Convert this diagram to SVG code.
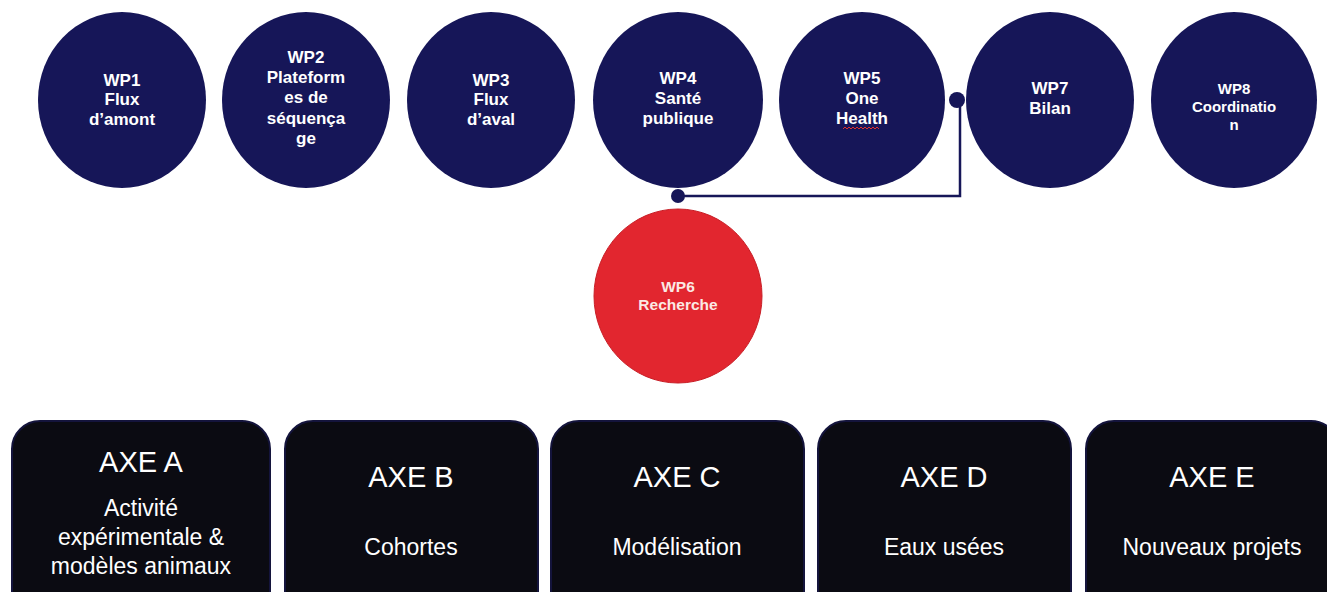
<svg xmlns="http://www.w3.org/2000/svg" width="1327" height="592" viewBox="0 0 1327 592">
<style>
.wp{fill:#161658;}
.wp6{fill:#e2262f;stroke:#c81e26;stroke-width:1;}
.wt{font-family:"Liberation Sans",Arial,sans-serif;font-weight:bold;font-size:17px;fill:#ffffff;text-anchor:middle;}
.sm{font-size:15px;}
.wt6{fill:#fbe9e4;font-size:15.5px;}
.axe{fill:#0b0b12;stroke:#14143c;stroke-width:2;}
.at{font-family:"Liberation Sans",Arial,sans-serif;fill:#ffffff;text-anchor:middle;}
.title{font-size:29px;}
.body{font-size:23px;}
.conn{fill:none;stroke:#161658;stroke-width:2.5;}
.dot{fill:#161658;}
</style>
<rect width="1327" height="592" fill="#ffffff"/>
<g id="connectors">
<path class="conn" d="M678,196 H960 V100"/>
<circle class="dot" cx="678" cy="196" r="7"/>
<circle class="dot" cx="957" cy="100" r="8"/>
</g>
<g id="wp1"><ellipse class="wp" cx="122" cy="100" rx="84" ry="88"/>
<text class="wt" x="122" y="86">WP1</text><text class="wt" x="122" y="105">Flux</text><text class="wt" x="122" y="125">d’amont</text></g>
<g id="wp2"><ellipse class="wp" cx="306" cy="100" rx="84" ry="88"/>
<text class="wt" x="306" y="63">WP2</text><text class="wt" x="306" y="83">Plateform</text><text class="wt" x="306" y="103">es de</text><text class="wt" x="306" y="124">séquença</text><text class="wt" x="306" y="144">ge</text></g>
<g id="wp3"><ellipse class="wp" cx="491" cy="100" rx="84" ry="88"/>
<text class="wt" x="491" y="86">WP3</text><text class="wt" x="491" y="105">Flux</text><text class="wt" x="491" y="125">d’aval</text></g>
<g id="wp4"><ellipse class="wp" cx="678" cy="100" rx="85" ry="88"/>
<text class="wt" x="678" y="84">WP4</text><text class="wt" x="678" y="104">Santé</text><text class="wt" x="678" y="124">publique</text></g>
<g id="wp5"><ellipse class="wp" cx="862" cy="100" rx="83" ry="88"/>
<text class="wt" x="862" y="84">WP5</text><text class="wt" x="862" y="104">One</text><text class="wt" x="862" y="124">Health</text>
<path d="M843,129 l2,-2 l2,2 l2,-2 l2,2 l2,-2 l2,2 l2,-2 l2,2 l2,-2 l2,2 l2,-2 l2,2 l2,-2 l2,2 l2,-2 l2,2 l2,-2 l2,2" fill="none" stroke="#e0302c" stroke-width="1"/></g>
<g id="wp7"><ellipse class="wp" cx="1050" cy="100" rx="84" ry="88"/>
<text class="wt" x="1050" y="94">WP7</text><text class="wt" x="1050" y="114">Bilan</text></g>
<g id="wp8"><ellipse class="wp" cx="1234" cy="100" rx="83" ry="88"/>
<text class="wt sm" x="1234" y="94">WP8</text><text class="wt sm" x="1234" y="112">Coordinatio</text><text class="wt sm" x="1234" y="130">n</text></g>
<g id="wp6"><ellipse class="wp6" cx="678" cy="296" rx="84" ry="87"/>
<text class="wt wt6" x="678" y="292">WP6</text><text class="wt wt6" x="678" y="310">Recherche</text></g>
<g id="axeA"><rect class="axe" x="12" y="421" width="258" height="200" rx="28"/>
<text class="at title" x="141" y="472">AXE A</text><text class="at body" x="141" y="516">Activité</text><text class="at body" x="141" y="545">expérimentale &amp;</text><text class="at body" x="141" y="574">modèles animaux</text></g>
<g id="axeB"><rect class="axe" x="285" y="421" width="253" height="200" rx="28"/>
<text class="at title" x="411" y="487">AXE B</text><text class="at body" x="411" y="555">Cohortes</text></g>
<g id="axeC"><rect class="axe" x="551" y="421" width="253" height="200" rx="28"/>
<text class="at title" x="677" y="487">AXE C</text><text class="at body" x="677" y="555">Modélisation</text></g>
<g id="axeD"><rect class="axe" x="818" y="421" width="253" height="200" rx="28"/>
<text class="at title" x="944" y="487">AXE D</text><text class="at body" x="944" y="555">Eaux usées</text></g>
<g id="axeE"><rect class="axe" x="1086" y="421" width="253" height="200" rx="28"/>
<text class="at title" x="1212" y="487">AXE E</text><text class="at body" x="1212" y="555">Nouveaux projets</text></g>
</svg>
